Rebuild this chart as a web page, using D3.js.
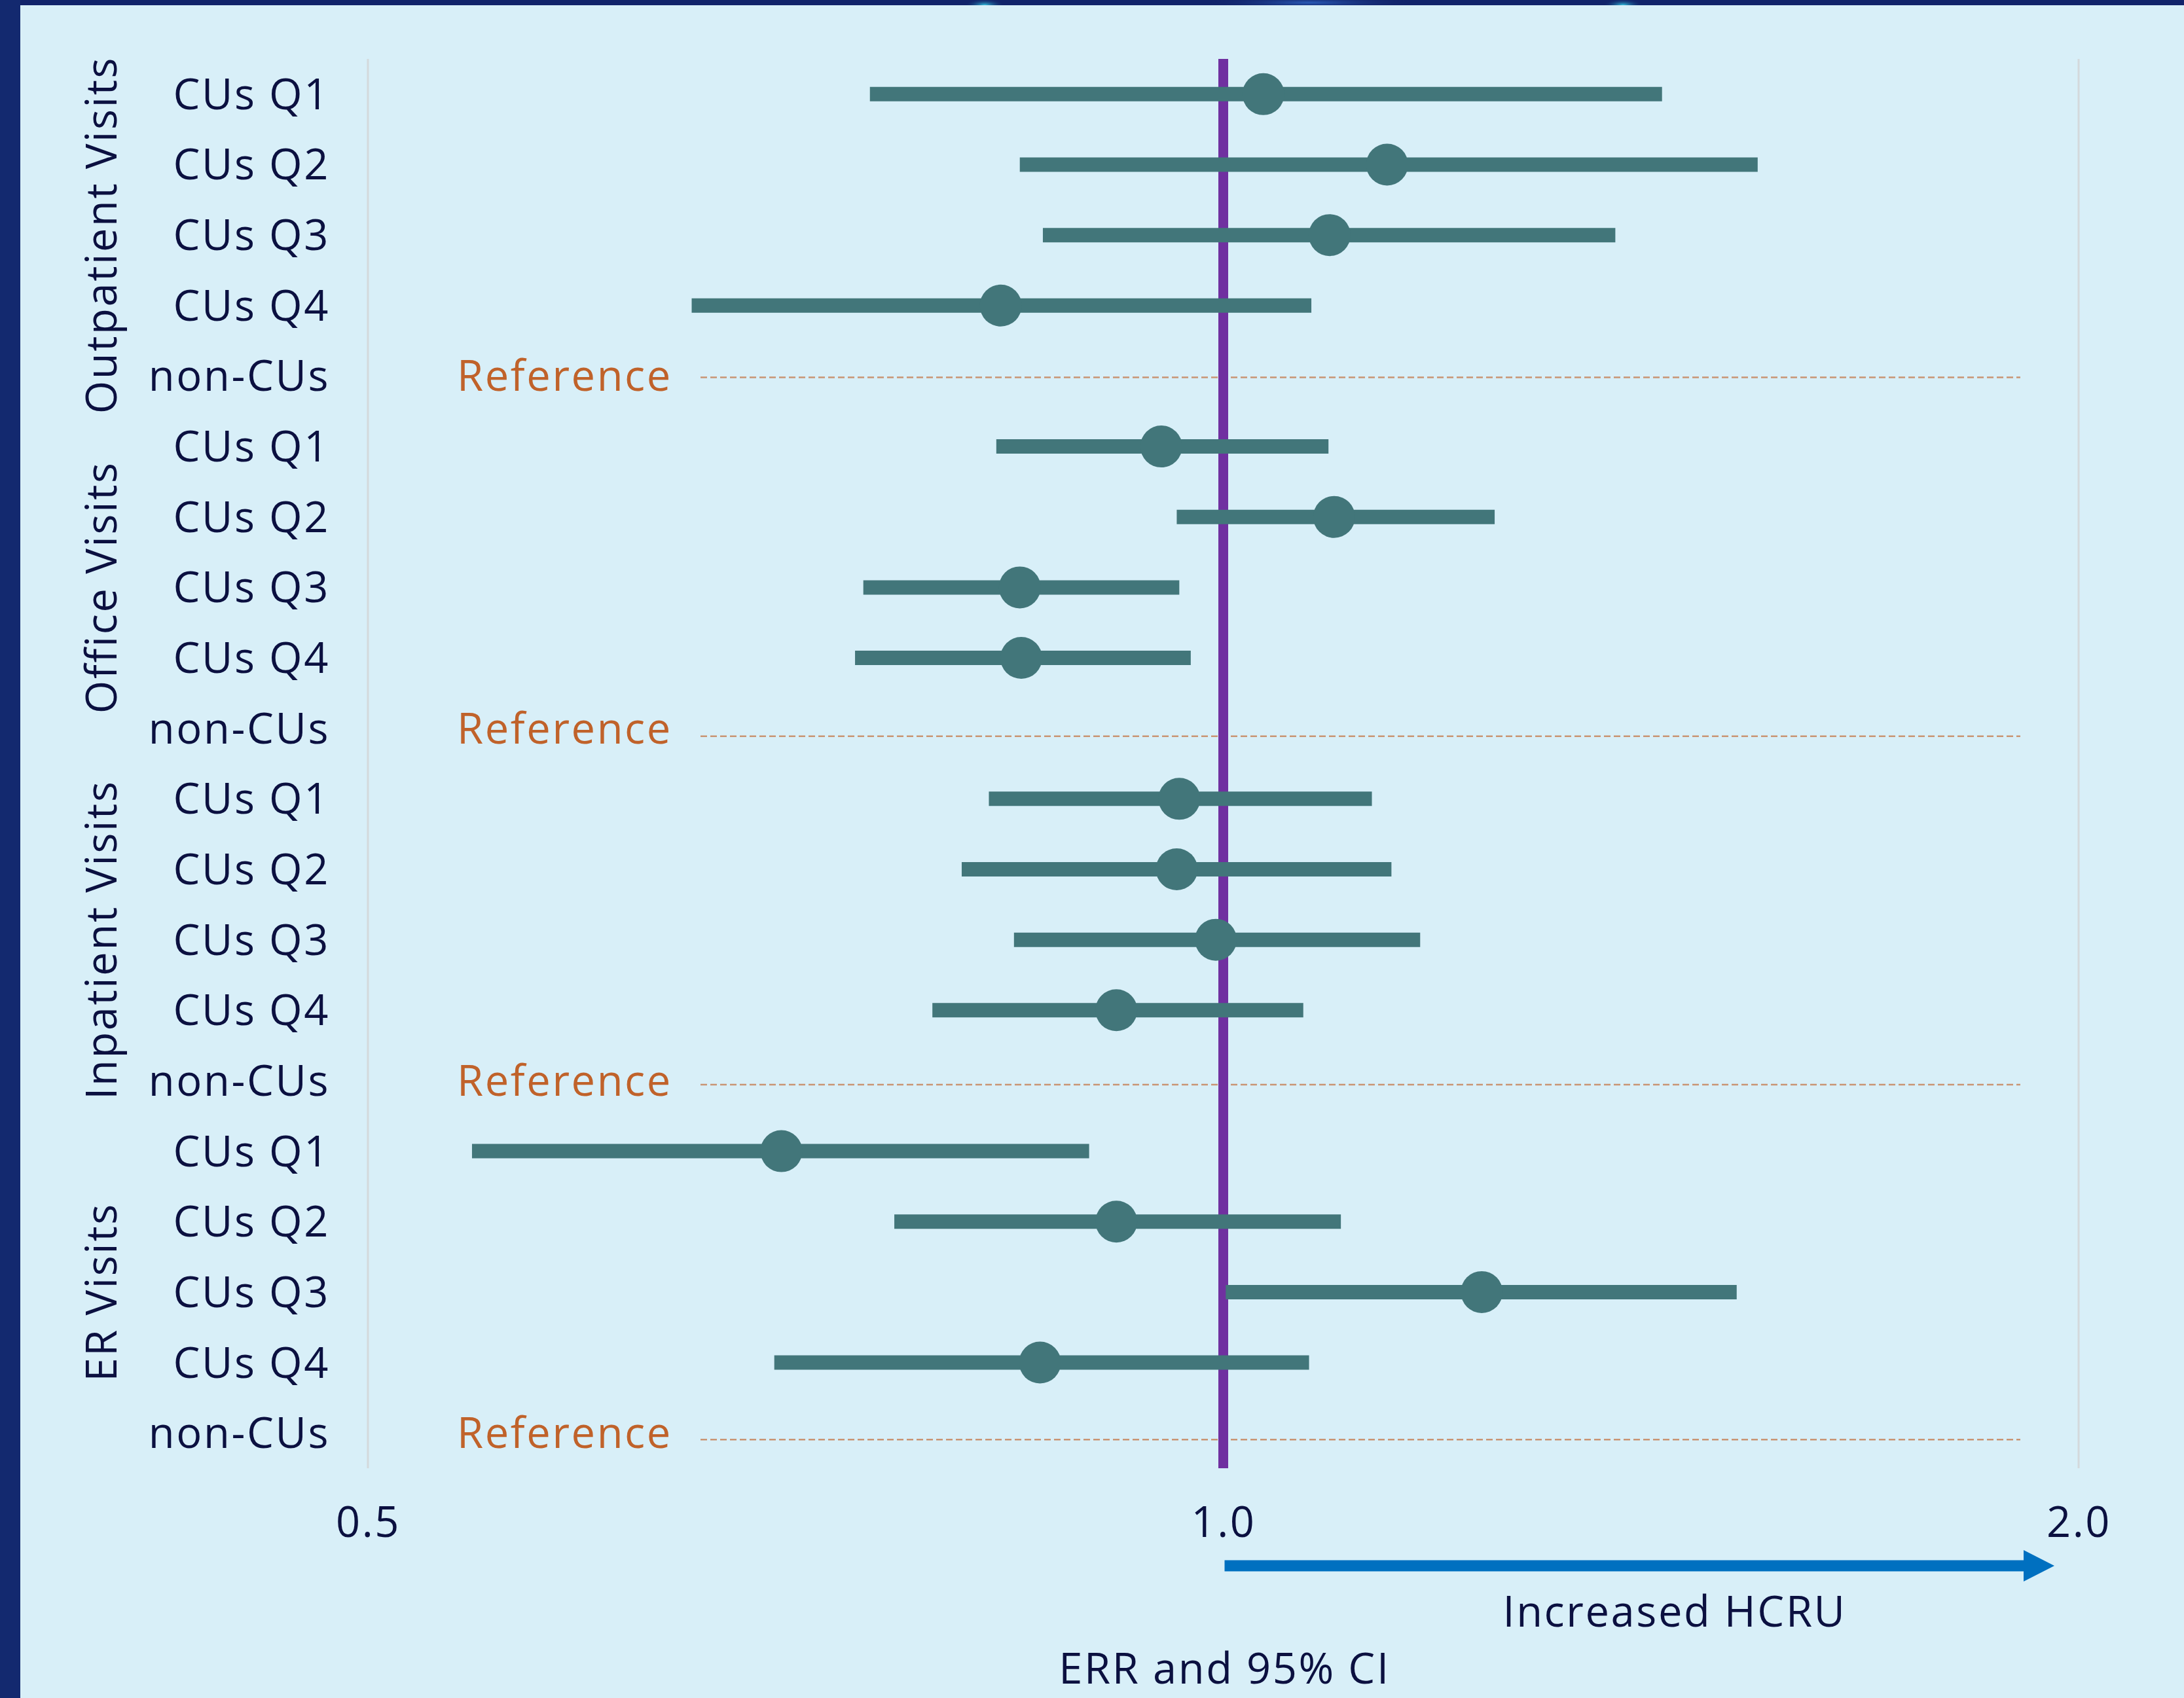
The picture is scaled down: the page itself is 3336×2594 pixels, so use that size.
<!DOCTYPE html>
<html>
<head>
<meta charset="utf-8">
<script src="https://cdn.jsdelivr.net/npm/d3@7"></script>
<style>
  html, body { margin: 0; padding: 0; background: #d8eff8; }
  svg { display: block; }
  text { font-family: "Open Sans", "Noto Sans", sans-serif; letter-spacing: 2.6px; }
</style>
</head>
<body>
<svg id="chart" width="3336" height="2594"></svg>
<script>
// ---------- data ----------
const groups = ["Outpatient Visits", "Office Visits", "Inpatient Visits", "ER Visits"];
const rowLabels = ["CUs Q1", "CUs Q2", "CUs Q3", "CUs Q4", "non-CUs"];
const referenceLabel = "Reference";

// ERR point estimates (Q1..Q4) per group
const outpatientERR = [1.033, 1.142, 1.090, 0.835];
const outpatientLow = [0.751, 0.848, 0.864, 0.650];
const outpatientHigh = [1.427, 1.542, 1.374, 1.074];

const officeERR = [0.951, 1.094, 0.848, 0.849];
const officeLow = [0.832, 0.963, 0.747, 0.742];
const officeHigh = [1.089, 1.246, 0.965, 0.974];

const inpatientERR = [0.965, 0.963, 0.994, 0.917];
const inpatientLow = [0.827, 0.809, 0.844, 0.790];
const inpatientHigh = [1.128, 1.146, 1.173, 1.067];

const erERR = [0.699, 0.917, 1.233, 0.862];
const erLow = [0.544, 0.766, 1.002, 0.695];
const erHigh = [0.897, 1.100, 1.516, 1.072];

const tickValues = [0.5, 1.0, 2.0];
const tickLabels = ["0.5", "1.0", "2.0"];
const xTitle = "ERR and 95% CI";
const arrowLabel = "Increased HCRU";

// ---------- build rows ----------
const groupSeries = [
  [outpatientERR, outpatientLow, outpatientHigh],
  [officeERR, officeLow, officeHigh],
  [inpatientERR, inpatientLow, inpatientHigh],
  [erERR, erLow, erHigh]
];
const rows = [];
groups.forEach((g, gi) => {
  rowLabels.forEach((lab, ri) => {
    const s = groupSeries[gi];
    rows.push({
      id: gi * rowLabels.length + ri,
      group: g, gi, label: lab,
      est: ri < 4 ? s[0][ri] : null,
      lo: ri < 4 ? s[1][ri] : null,
      hi: ri < 4 ? s[2][ri] : null,
      ref: ri === 4
    });
  });
});

// ---------- layout ----------
const W = 3336, H = 2594;
const svg = d3.select("#chart");
const plotTop = 90, plotBottom = 2243;

const x = d3.scaleLog().domain([0.5, 2.0]).range([562, 3175]);
const y = d3.scaleBand().domain(rows.map(d => d.id)).range([plotTop, plotBottom]);
const yc = id => y(id) + y.bandwidth() / 2;

const textColor = "#0b1040";
const barColor = "#42767a";
const refColor = "#c0622a";

// background + frame
svg.append("rect").attr("width", W).attr("height", H).attr("fill", "#d8eff8");

const defs = svg.append("defs");
const glow1 = defs.append("radialGradient").attr("id", "glowCyan");
glow1.append("stop").attr("offset", "0%").attr("stop-color", "#35c4e0");
glow1.append("stop").attr("offset", "100%").attr("stop-color", "#12256b").attr("stop-opacity", 0);
const glow2 = defs.append("radialGradient").attr("id", "glowBlue");
glow2.append("stop").attr("offset", "0%").attr("stop-color", "#2a5bb8");
glow2.append("stop").attr("offset", "100%").attr("stop-color", "#12256b").attr("stop-opacity", 0);
defs.append("clipPath").attr("id", "topClip")
  .append("rect").attr("x", 0).attr("y", 0).attr("width", W).attr("height", 8);

svg.append("rect").attr("x", 0).attr("y", 0).attr("width", W).attr("height", 8).attr("fill", "#11236a");
const tb = svg.append("g").attr("clip-path", "url(#topClip)");
tb.append("ellipse").attr("cx", 1504).attr("cy", 8).attr("rx", 30).attr("ry", 10).attr("fill", "url(#glowCyan)");
tb.append("ellipse").attr("cx", 2000).attr("cy", 4).attr("rx", 160).attr("ry", 10).attr("fill", "url(#glowBlue)");
tb.append("ellipse").attr("cx", 2479).attr("cy", 8).attr("rx", 30).attr("ry", 10).attr("fill", "url(#glowCyan)");
svg.append("rect").attr("x", 0).attr("y", 0).attr("width", 31).attr("height", H).attr("fill", "#13296f");

// vertical gridlines at 0.5 and 2.0
svg.append("g").selectAll("line")
  .data([0.5, 2.0]).join("line")
  .attr("x1", d => x(d)).attr("x2", d => x(d))
  .attr("y1", plotTop).attr("y2", plotBottom)
  .attr("stroke", "#d3d9dc").attr("stroke-width", 3);

// reference dashed lines
const refRows = rows.filter(d => d.ref);
const refLineOffsets = [2, 12, 6, 10];
svg.append("g").selectAll("line")
  .data(refRows).join("line")
  .attr("x1", 1070).attr("x2", 3086)
  .attr("y1", (d, i) => yc(d.id) + refLineOffsets[i])
  .attr("y2", (d, i) => yc(d.id) + refLineOffsets[i])
  .attr("stroke", "#c99574").attr("stroke-width", 2.5)
  .attr("stroke-dasharray", "10,5");

// reference labels
svg.append("g").selectAll("text")
  .data(refRows).join("text")
  .attr("x", 698).attr("y", d => yc(d.id) + 23)
  .attr("fill", refColor).attr("font-size", 65)
  .text(referenceLabel);

// null line at 1.0
svg.append("line")
  .attr("x1", x(1)).attr("x2", x(1))
  .attr("y1", plotTop).attr("y2", plotBottom)
  .attr("stroke", "#7030a0").attr("stroke-width", 15);

// CI bars
const dataRows = rows.filter(d => !d.ref);
svg.append("g").selectAll("line")
  .data(dataRows).join("line")
  .attr("x1", d => x(d.lo)).attr("x2", d => x(d.hi))
  .attr("y1", d => yc(d.id)).attr("y2", d => yc(d.id))
  .attr("stroke", barColor).attr("stroke-width", 22);

// points
svg.append("g").selectAll("circle")
  .data(dataRows).join("circle")
  .attr("cx", d => x(d.est)).attr("cy", d => yc(d.id))
  .attr("r", 32).attr("fill", barColor);

// row labels
svg.append("g").selectAll("text")
  .data(rows).join("text")
  .attr("x", 504).attr("y", d => yc(d.id) + 23)
  .attr("text-anchor", "end")
  .attr("fill", textColor).attr("font-size", 65)
  .text(d => d.label);

// group labels (rotated)
svg.append("g").selectAll("text")
  .data(groups).join("text")
  .attr("transform", (g, gi) => {
    const ids = rows.filter(r => r.gi === gi).map(r => r.id);
    const cy = (yc(ids[0]) + yc(ids[ids.length - 1])) / 2;
    return `translate(178,${cy}) rotate(-90)`;
  })
  .attr("text-anchor", "middle")
  .attr("fill", textColor).attr("font-size", 65)
  .text(d => d);

// x axis tick labels
const xAxis = d3.axisBottom(x).tickValues(tickValues)
  .tickFormat((d, i) => tickLabels[i]).tickSize(0).tickPadding(0);
const gx = svg.append("g").attr("transform", "translate(0,2302)").call(xAxis);
gx.select(".domain").remove();
gx.selectAll("text")
  .attr("fill", textColor).attr("font-size", 65)
  .attr("font-family", "'Open Sans', 'Noto Sans', sans-serif")
  .attr("dy", "0.71em");

// arrow for increased HCRU
const arrowStart = x(1.0) + 2;
const arrowTip = x(2.0) - 37;
const headLen = 47, shaftH = 17, headH = 48, arrowY = 2392;
svg.append("rect")
  .attr("x", arrowStart).attr("y", arrowY - shaftH / 2)
  .attr("width", arrowTip - headLen - arrowStart).attr("height", shaftH)
  .attr("fill", "#0070c0");
svg.append("path")
  .attr("d", `M${arrowTip - headLen},${arrowY - headH / 2} L${arrowTip},${arrowY} L${arrowTip - headLen},${arrowY + headH / 2} Z`)
  .attr("fill", "#0070c0");

svg.append("text")
  .attr("x", 2558).attr("y", 2485)
  .attr("text-anchor", "middle")
  .attr("fill", textColor).attr("font-size", 65)
  .text(arrowLabel);

svg.append("text")
  .attr("x", x(1.0) + 2).attr("y", 2572)
  .attr("text-anchor", "middle")
  .attr("fill", textColor).attr("font-size", 65)
  .text(xTitle);
</script>
</body>
</html>
